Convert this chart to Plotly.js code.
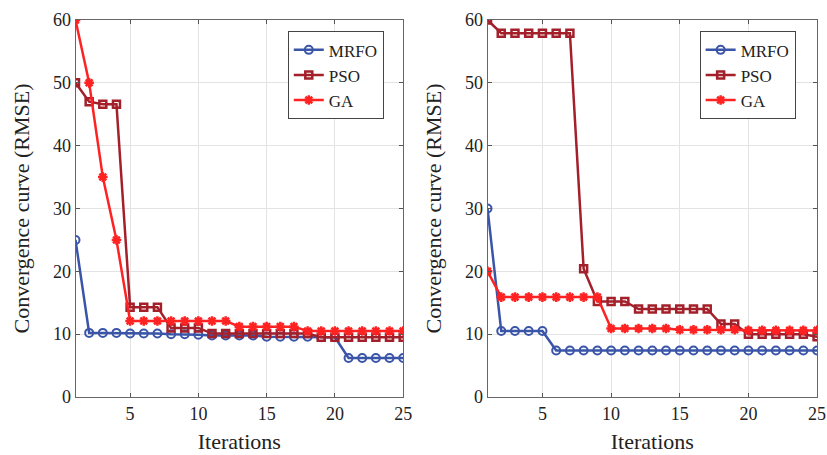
<!DOCTYPE html>
<html><head><meta charset="utf-8">
<script src="https://cdn.plot.ly/plotly-3.0.1.min.js"></script>
<style>body{margin:0;background:#fff}#c{width:827px;height:455px}</style>
</head><body><div id="c"></div>
<script>
const iterations = [1,2,3,4,5,6,7,8,9,10,11,12,13,14,15,16,17,18,19,20,21,22,23,24,25];
// Left panel
const mrfoLeft = [25,10.2,10.2,10.2,10.1,10.1,10.1,10.0,10.0,9.9,9.8,9.8,9.8,9.8,9.6,9.6,9.6,9.6,9.5,9.5,6.2,6.2,6.2,6.2,6.2];
const psoLeft  = [50,47,46.6,46.6,14.3,14.3,14.3,11.0,11.0,11.0,10.1,10.1,10.1,10.1,10.1,10.1,10.1,10.1,9.5,9.5,9.5,9.5,9.5,9.5,9.5];
const gaLeft   = [60,50,35,25,12.1,12.1,12.1,12.1,12.1,12.1,12.1,12.1,11.2,11.2,11.2,11.2,11.2,10.5,10.5,10.5,10.5,10.5,10.5,10.5,10.5];
// Right panel
const mrfoRight = [30,10.5,10.5,10.5,10.5,7.4,7.4,7.4,7.4,7.4,7.4,7.4,7.4,7.4,7.4,7.4,7.4,7.4,7.4,7.4,7.4,7.4,7.4,7.4,7.4];
const psoRight  = [60,57.9,57.9,57.9,57.9,57.9,57.9,20.4,15.2,15.2,15.2,14.0,14.0,14.0,14.0,14.0,14.0,11.6,11.6,10.0,10.0,10.0,10.0,10.0,9.6];
const gaRight   = [20,15.9,15.9,15.9,15.9,15.9,15.9,15.9,15.9,10.9,10.9,10.9,10.9,10.9,10.7,10.7,10.7,10.7,10.7,10.6,10.6,10.6,10.6,10.6,10.6];
const xTicks = [5,10,15,20,25];
const yTicks = [0,10,20,30,40,50,60];
const names = ['MRFO','PSO','GA'];

const colors = {MRFO:'#3a55a8', PSO:'#a3202b', GA:'#ff2222'};
const markers = {
  MRFO:{symbol:'circle-open', size:8, color:colors.MRFO, line:{width:2,color:colors.MRFO}},
  PSO:{symbol:'square-open', size:7, color:colors.PSO, line:{width:2.5,color:colors.PSO}},
  GA:{symbol:'asterisk-open', size:8, color:colors.GA, line:{width:2.5,color:colors.GA}}
};
function tr(name, y, xa, ya, leg){
  return {x:iterations, y:y, name:name, xaxis:xa, yaxis:ya, legend:leg, mode:'lines+markers',
    line:{color:colors[name], width:2.5}, marker:markers[name]};
}
const data = [
  tr('MRFO', mrfoLeft,'x','y','legend'), tr('PSO', psoLeft,'x','y','legend'), tr('GA', gaLeft,'x','y','legend'),
  tr('MRFO', mrfoRight,'x2','y2','legend2'), tr('PSO', psoRight,'x2','y2','legend2'), tr('GA', gaRight,'x2','y2','legend2')
];
const fam = '"Liberation Serif", "Times New Roman", serif';
const font = {family:fam, color:'#222'};
function xax(dom){
  return {domain:dom, range:[1,25], tickvals:xTicks, ticks:'inside', ticklen:4, tickcolor:'#555',
    showline:true, linecolor:'#666', linewidth:1, mirror:'ticks', showgrid:true, gridcolor:'#e3e3e3',
    zeroline:false, tickfont:{size:18, family:fam, color:'#222'},
    title:{text:'Iterations', font:{size:22, family:fam, color:'#222'}, standoff:11}};
}
function yax(anchor){
  return {anchor:anchor, domain:[0,1], range:[0,60], tickvals:yTicks, ticks:'inside', ticklen:4, tickcolor:'#555',
    showline:true, linecolor:'#666', linewidth:1, mirror:'ticks', showgrid:true, gridcolor:'#e3e3e3',
    zeroline:false, tickfont:{size:18, family:fam, color:'#222'},
    title:{text:'Convergence curve (RMSE)', font:{size:22, family:fam, color:'#222'}, standoff:17}};
}
function leg(x,y){
  return {x:x, y:y, xanchor:'left', yanchor:'top', bgcolor:'#fff', bordercolor:'#444', borderwidth:1,
    font:{size:17, family:fam, color:'#222'}, tracegroupgap:0};
}
const layout = {
  width:827, height:455, margin:{l:0, r:0, t:20, b:58},
  paper_bgcolor:'#fff', plot_bgcolor:'#fff', font:font,
  xaxis: Object.assign(xax([0.0913,0.4875]), {anchor:'y'}), yaxis: yax('x'),
  xaxis2: Object.assign(xax([0.5895,0.988]), {anchor:'y2'}), yaxis2: yax('x2'),
  legend: leg(0.348, 0.97),
  legend2: leg(0.846, 0.97),
  showlegend:true
};
Plotly.newPlot('c', data, layout, {displayModeBar:false, staticPlot:true});
</script></body></html>
